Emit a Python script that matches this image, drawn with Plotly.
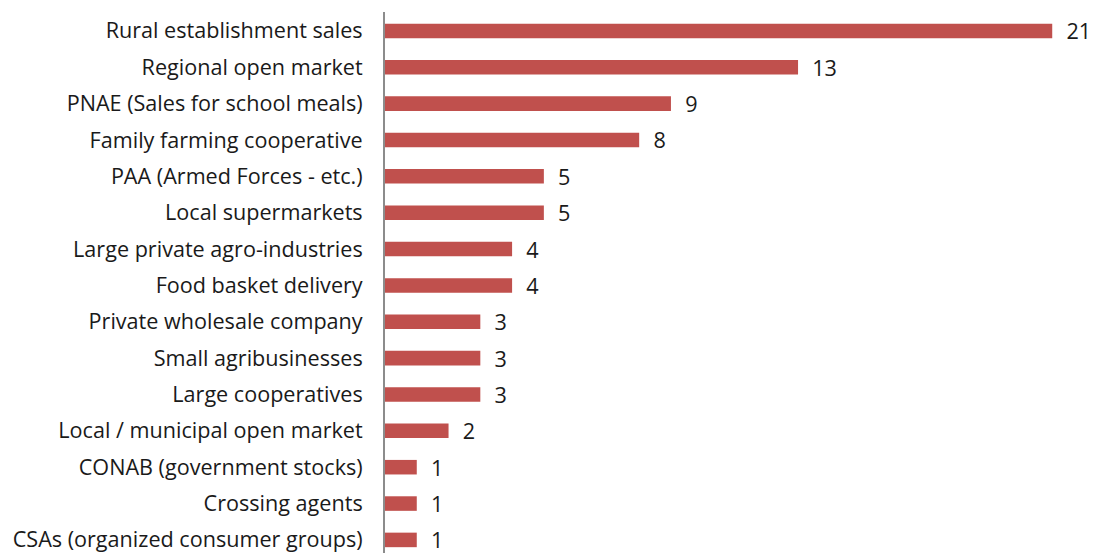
import plotly.graph_objects as go

channels = [
    "Rural establishment sales",
    "Regional open market",
    "PNAE (Sales for school meals)",
    "Family farming cooperative",
    "PAA (Armed Forces - etc.)",
    "Local supermarkets",
    "Large private agro-industries",
    "Food basket delivery",
    "Private wholesale company",
    "Small agribusinesses",
    "Large cooperatives",
    "Local / municipal open market",
    "CONAB (government stocks)",
    "Crossing agents",
    "CSAs (organized consumer groups)",
]
counts = [21, 13, 9, 8, 5, 5, 4, 4, 3, 3, 3, 2, 1, 1, 1]

FONT = "Open Sans"
SIZE = 21.6

fig = go.Figure(
    go.Bar(
        x=counts,
        y=channels,
        orientation="h",
        marker=dict(color="#C0504D", line=dict(width=0)),
        width=0.4,
        text=counts,
        texttemplate="  %{x}",
        textposition="outside",
        constraintext="none",
        textfont=dict(family=FONT, size=SIZE, color="#1a1a1a"),
        cliponaxis=False,
    )
)

fig.update_layout(
    width=1095,
    height=553,
    margin=dict(l=385, r=11, t=12, b=0),
    paper_bgcolor="white",
    plot_bgcolor="white",
    showlegend=False,
    font=dict(family=FONT, size=SIZE, color="#1a1a1a"),
)
fig.update_xaxes(range=[0, 22], visible=False)
fig.update_yaxes(
    categoryorder="array",
    categoryarray=channels,
    range=[14.36, -0.52],
    showline=True,
    linecolor="#8c8c8c",
    linewidth=2,
    showgrid=False,
    zeroline=False,
    ticks="",
    ticklabelstandoff=16,
    tickfont=dict(family=FONT, size=SIZE, color="#1a1a1a"),
)

fig.write_html("out.html")
